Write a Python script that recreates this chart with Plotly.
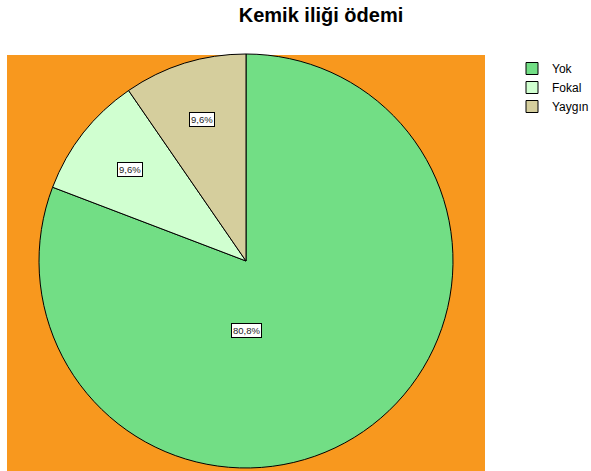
import math

import plotly.graph_objects as go

# Chart data
categories = ["Yok", "Fokal", "Yaygın"]
counts = [101, 12, 12]
slice_colors = ["#72DE85", "#D0FFD0", "#D5CE9D"]

W, H = 591, 471
cx, cy, R = 246, 261, 207  # pie centre / radius in px (from top-left)

total = sum(counts)
pcts = [100 * c / total for c in counts]

fig = go.Figure(
    go.Pie(
        labels=categories,
        values=counts,
        sort=False,
        direction="clockwise",
        rotation=0,
        textinfo="none",
        hoverinfo="label+percent",
        marker=dict(colors=slice_colors, line=dict(color="black", width=1)),
        domain=dict(
            x=[(cx - R) / W, (cx + R) / W],
            y=[(H - cy - R) / H, (H - cy + R) / H],
        ),
    )
)

# percentage labels in small boxes, placed at each slice's middle angle
annotations = []
start = 0.0
for i, p in enumerate(pcts):
    sweep = 360 * p / 100
    mid = math.radians(start + sweep / 2)
    if p > 50:
        # the big slice gets its label straight under the centre
        dx, dy = 0, R / 3
    else:
        dx, dy = 0.715 * R * math.sin(mid), -0.715 * R * math.cos(mid)
    annotations.append(
        dict(
            x=(cx + dx) / W,
            y=(H - cy - dy) / H,
            xref="paper",
            yref="paper",
            xanchor="center",
            yanchor="middle",
            text=f"{p:.1f}%".replace(".", ","),
            showarrow=False,
            font=dict(family="Liberation Sans, Arial", size=9.5, color="#222222"),
            bgcolor="white",
            bordercolor="black",
            borderwidth=1,
            borderpad=1,
        )
    )
    start += sweep

fig.update_layout(
    width=W,
    height=H,
    margin=dict(l=0, r=0, t=0, b=0, autoexpand=False),
    paper_bgcolor="white",
    title=dict(
        text="<b>Kemik iliği ödemi</b>",
        x=321 / W,
        xanchor="center",
        y=1 - 15 / H,
        yanchor="middle",
        font=dict(family="Liberation Sans, Arial", size=20, color="black"),
    ),
    legend=dict(
        x=512 / W,
        y=1 - 54 / H,
        xanchor="left",
        yanchor="top",
        font=dict(family="Liberation Sans, Arial", size=12, color="black"),
        itemwidth=30,
        tracegroupgap=0,
    ),
    shapes=[
        dict(
            type="rect",
            xref="paper",
            yref="paper",
            x0=7 / W,
            x1=485 / W,
            y0=0,
            y1=1 - 55 / H,
            fillcolor="#F8981E",
            line=dict(width=0),
            layer="below",
        )
    ],
    annotations=annotations,
)

# drop the default 8px body margin so the figure sits at the page corner
fig.write_html(
    "out.html",
    config={"displayModeBar": False},
    post_script="document.body.style.margin = '0';",
)
